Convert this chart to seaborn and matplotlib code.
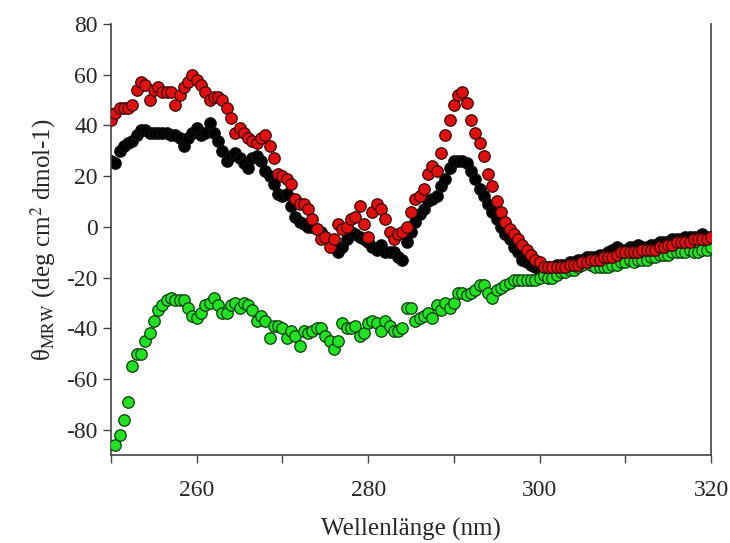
import numpy as np
import pandas as pd
import matplotlib
matplotlib.use("Agg")
import matplotlib.pyplot as plt
import seaborn as sns

# wavelength grid (nm)
wl = np.arange(250, 320.25, 0.5)
wl_green = np.arange(250.5, 320.25, 0.5)

red = [42, 45, 47, 47, 47, 48, 54, 57, 56, 50,
       54, 55, 53, 53, 53, 48, 52, 55, 57, 60,
       58, 56, 53, 50, 51, 51, 50, 47, 43, 37,
       39, 37, 35, 34, 33, 35, 36, 32, 27, 21,
       20, 19, 17, 11, 9, 9, 7, 3, -1, -5,
       -4, -8, -5, 1, -1, 0, 3, 4, 8, 1,
       -4, 6, 9, 7, 3, -2, -5, -3, -2, 0,
       6, 11, 12, 15, 21, 24, 22, 29, 36, 42,
       48, 52, 53, 49, 42, 37, 33, 28, 21, 16,
       10, 6, 2, -1, -3, -5, -7, -9, -11, -13,
       -14, -16, -16, -16, -16, -16, -16, -15, -15, -15,
       -14, -14, -13, -13, -13, -12, -12, -12, -11, -10,
       -10, -10, -10, -10, -9, -9, -9, -9, -8, -8,
       -7, -7, -6, -6, -6, -6, -5, -5, -5, -5,
       -4]

black = [26, 25, 30, 32, 33, 34, 36, 38, 38, 37,
         37, 37, 37, 37, 36, 36, 35, 32, 35, 37,
         39, 36, 37, 41, 37, 34, 30, 26, 28, 29,
         27, 25, 23, 27, 28, 26, 22, 20, 17, 13,
         12, 13, 8, 4, 2, 1, 0, 0, -1, -2,
         -4, -6, -8, -10, -8, -5, -2, -3, -4, -5,
         -6, -8, -9, -7, -10, -10, -10, -12, -13, -6,
         -2, 2, 5, 7, 10, 11, 12, 16, 19, 23,
         26, 26, 26, 25, 22, 19, 15, 12, 9, 6,
         3, 0, -3, -5, -8, -10, -13, -14, -15, -16,
         -17, -16, -16, -16, -15, -15, -15, -14, -14, -13,
         -13, -12, -12, -12, -11, -11, -10, -9, -8, -9,
         -9, -8, -8, -7, -8, -8, -7, -7, -6, -6,
         -6, -5, -5, -5, -4, -4, -4, -4, -3, -4,
         -4]

green = [-86, -82, -76, -69, -55, -50, -50, -45, -42, -37,
         -33, -31, -29, -28, -29, -29, -29, -32, -35, -36,
         -34, -31, -30, -28, -31, -34, -34, -31, -30, -32,
         -30, -31, -33, -37, -35, -37, -44, -39, -39, -40,
         -44, -41, -43, -47, -41, -42, -41, -40, -40, -43,
         -45, -48, -45, -38, -40, -40, -39, -43, -42, -38,
         -37, -38, -41, -37, -39, -41, -41, -40, -32, -32,
         -37, -36, -35, -34, -36, -31, -33, -30, -32, -30,
         -26, -26, -27, -26, -25, -23, -23, -26, -28, -25,
         -24, -23, -22, -21, -21, -21, -21, -21, -21, -20,
         -19, -20, -20, -19, -18, -18, -17, -17, -16, -15,
         -14, -15, -16, -16, -16, -16, -15, -15, -14, -14,
         -13, -14, -13, -13, -13, -12, -12, -11, -11, -11,
         -10, -10, -10, -10, -9, -10, -10, -9, -9, -8]

df_red = pd.DataFrame({"wl": wl, "theta": red})
df_black = pd.DataFrame({"wl": wl, "theta": black})
df_green = pd.DataFrame({"wl": wl_green, "theta": green})

sns.set_style("ticks")
plt.rcParams['font.family'] = ['Liberation Serif', 'DejaVu Serif']
plt.rcParams['mathtext.fontset'] = 'stix'
plt.rcParams['axes.unicode_minus'] = False

fig = plt.figure(figsize=(7.3, 5.43), dpi=100)
ax = fig.add_axes([0.152, 0.162, 0.822, 0.794])

sns.scatterplot(data=df_black, x="wl", y="theta", ax=ax, color="#000000",
                edgecolor="#111111", linewidth=0.9, s=68, zorder=2)
sns.scatterplot(data=df_green, x="wl", y="theta", ax=ax, color="#22e022",
                edgecolor="#0a3a0a", linewidth=0.9, s=68, zorder=3)
sns.scatterplot(data=df_red, x="wl", y="theta", ax=ax, color="#e01010",
                edgecolor="#3a0505", linewidth=0.9, s=68, zorder=4)

ax.set_xlim(250, 320)
ax.set_ylim(-90, 80)
ax.set_xticks([260, 280, 300, 320])
ax.set_xticks([250, 270, 290, 310], minor=True)
ax.set_yticks(range(-80, 81, 20))
ax.tick_params(axis="both", which="both", direction="out", length=6,
               width=1, color="#444444", labelsize=17)
ax.tick_params(axis="x", pad=12)

for side in ["left", "bottom", "right"]:
    ax.spines[side].set_color("#444444")
    ax.spines[side].set_linewidth(1.2)
ax.spines["top"].set_visible(False)

ax.set_xlabel("Wellenlänge (nm)", fontsize=18, labelpad=12)
ax.set_ylabel(r"θ$_{\mathrm{MRW}}$ (deg cm$^{2}$ dmol-1)", fontsize=18, labelpad=6)

fig.savefig("out.png", dpi=100)
